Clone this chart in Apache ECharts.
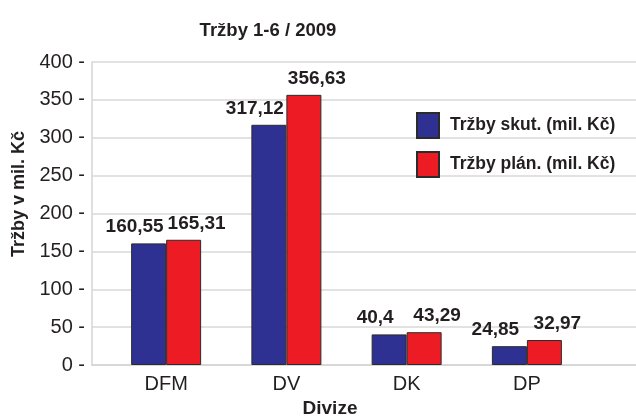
<!DOCTYPE html>
<html>
<head>
<meta charset="utf-8">
<script src="https://cdn.jsdelivr.net/npm/echarts@6/dist/echarts.min.js"></script>
<style>
    html, body { margin: 0; padding: 0; background: #fff; }
    #chart { width: 636px; height: 417px; }
</style>
</head>
<body>
<div id="chart"></div>
<script>
// data
var categories = ['DFM', 'DV', 'DK', 'DP'];
var skut = [160.55, 317.12, 40.4, 24.85];
var plan = [165.31, 356.63, 43.29, 32.97];
var seriesNames = ['Tržby skut. (mil. Kč)', 'Tržby plán. (mil. Kč)'];
var yTicks = { min: 0, max: 400, step: 50 };

var chart = echarts.init(document.getElementById('chart'));

var normal = "'Liberation Sans', Arial, sans-serif";
var ink = '#231f20';

// popisky s desetinnou čárkou
function fmt(p) {
    return String(p.value).replace('.', ',');
}

var option = {
    animation: false,
    title: {
        text: 'Tržby 1-6 / 2009',
        left: 263,
        top: 16,
        textAlign: 'center',
        textStyle: { fontFamily: normal, fontWeight: 'bold', fontSize: 18.5, color: ink }
    },
    legend: {
        orient: 'vertical',
        left: 411,
        top: 107,
        itemWidth: 22,
        itemHeight: 25,
        itemGap: 12,
        icon: 'rect',
        textStyle: { fontFamily: normal, fontWeight: 'bold', fontSize: 17.5, color: ink, padding: [0, 0, 0, 6] },
        data: seriesNames
    },
    grid: [
        // mřížka přes celou šířku
        { left: 92, right: 0, top: 62, bottom: 52 },
        // sloupce
        { left: 106, width: 481, top: 62, bottom: 52 }
    ],
    xAxis: [
        {
            gridIndex: 0,
            type: 'category',
            data: categories,
            axisLine: { show: true, lineStyle: { color: '#d4d4d4', width: 1.5 } },
            axisTick: { show: false },
            axisLabel: { show: false }
        },
        {
            gridIndex: 1,
            type: 'category',
            data: categories,
            axisLine: { show: false },
            axisTick: { show: false },
            axisLabel: { margin: 9, fontFamily: normal, fontSize: 20, color: ink }
        }
    ],
    yAxis: [
        {
            gridIndex: 0,
            type: 'value',
            min: yTicks.min,
            max: yTicks.max,
            interval: yTicks.step,
            axisLine: { show: true, lineStyle: { color: '#d4d4d4', width: 1.5 } },
            axisTick: { show: false },
            splitLine: { lineStyle: { color: '#d9d9d9', width: 1.5 } },
            axisLabel: { margin: 7, fontFamily: normal, fontSize: 20, color: ink, formatter: '{value} -' }
        },
        {
            gridIndex: 1,
            type: 'value',
            min: yTicks.min,
            max: yTicks.max,
            interval: yTicks.step,
            axisLine: { show: false },
            axisTick: { show: false },
            splitLine: { show: false },
            axisLabel: { show: false }
        }
    ],
    graphic: [
        {
            type: 'text',
            x: 19,
            y: 194,
            rotation: Math.PI / 2,
            style: {
                text: 'Tržby v mil. Kč',
                font: 'bold 18px ' + normal,
                fill: ink,
                textAlign: 'center',
                textVerticalAlign: 'middle'
            }
        },
        {
            type: 'text',
            x: 330,
            y: 409,
            style: {
                text: 'Divize',
                font: 'bold 19px ' + normal,
                fill: ink,
                textAlign: 'center',
                textVerticalAlign: 'middle'
            }
        }
    ],
    series: [
        {
            name: seriesNames[0],
            type: 'bar',
            xAxisIndex: 1,
            yAxisIndex: 1,
            data: skut,
            barWidth: 35,
            barGap: '0%',
            itemStyle: { color: '#2e3192', borderColor: '#2b2b2b', borderWidth: 1 },
            label: {
                show: true,
                position: 'top',
                distance: 7,
                offset: [-14, 0],
                formatter: fmt,
                fontFamily: normal,
                fontWeight: 'bold',
                fontSize: 19,
                color: ink
            }
        },
        {
            name: seriesNames[1],
            type: 'bar',
            xAxisIndex: 1,
            yAxisIndex: 1,
            data: plan,
            barWidth: 35,
            barGap: '0%',
            itemStyle: { color: '#ed1c24', borderColor: '#2b2b2b', borderWidth: 1 },
            label: {
                show: true,
                position: 'top',
                distance: 7,
                offset: [13, 0],
                formatter: fmt,
                fontFamily: normal,
                fontWeight: 'bold',
                fontSize: 19,
                color: ink
            }
        }
    ]
};

chart.setOption(option);
window.addEventListener('resize', function() { chart.resize(); });
</script>
</body>
</html>
